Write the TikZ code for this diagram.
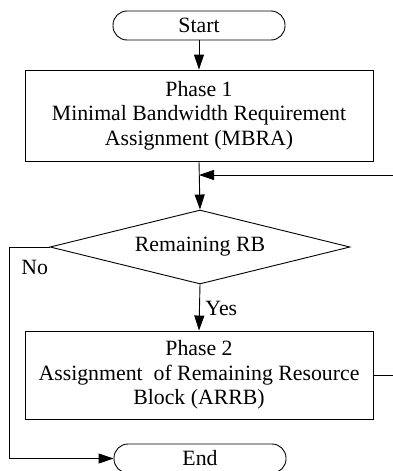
\documentclass[tikz,border=0pt]{standalone}
\usepackage{fontspec}
\setmainfont{Liberation Serif}
\usetikzlibrary{shapes.geometric,arrows.meta}
\tikzset{
  flowtext/.style={font=\fontsize{21.8}{24.5}\selectfont, align=center},
  term/.style={flowtext, draw, rounded corners=14pt, minimum width=172, minimum height=29, inner sep=0pt},
  proc/.style={flowtext, draw, minimum width=348, inner sep=0pt},
  decide/.style={flowtext, draw, diamond, minimum width=300, minimum height=74, aspect=4.05, inner sep=0pt},
  flow/.style={line width=0.9pt, -{Triangle[length=15pt,width=10pt]}},
  lbl/.style={flowtext, inner sep=0pt}
}
\begin{document}
\begin{tikzpicture}[x=1pt,y=-1pt,line width=0.9pt]
\useasboundingbox (0,0) rectangle (393,471);

% nodes
\node[term] (start) at (199,25.5) {Start};
\node[proc, minimum height=91] (p1) at (199,115.5)
  {Phase 1\\Minimal Bandwidth Requirement\\Assignment (MBRA)};
\node[decide] (dec) at (200,247) {Remaining RB};
\node[proc, minimum height=88] (p2) at (199,375)
  {Phase 2\\Assignment~ of Remaining Resource\\Block (ARRB)};
\node[term] (end) at (200,458.5) {End};

% helper points
\coordinate (join) at (199,175);
\coordinate (loopr) at (398,375);
\coordinate (leftc) at (9,247);

% connectors
\draw[flow] (start) -- (p1);
\draw[flow] (p1.south -| join) -- (dec.north);
\draw[flow] (p2.east) -- (loopr) |- (join);
\draw[flow] (dec.south) -- (p2.north);
\draw[flow] (dec.west) -- (leftc) |- (end.west);

% branch labels
\node[lbl, anchor=west] (yes) at (205,308) {Yes};
\node[lbl, anchor=west] (no) at (21,267) {No};
\end{tikzpicture}
\end{document}
